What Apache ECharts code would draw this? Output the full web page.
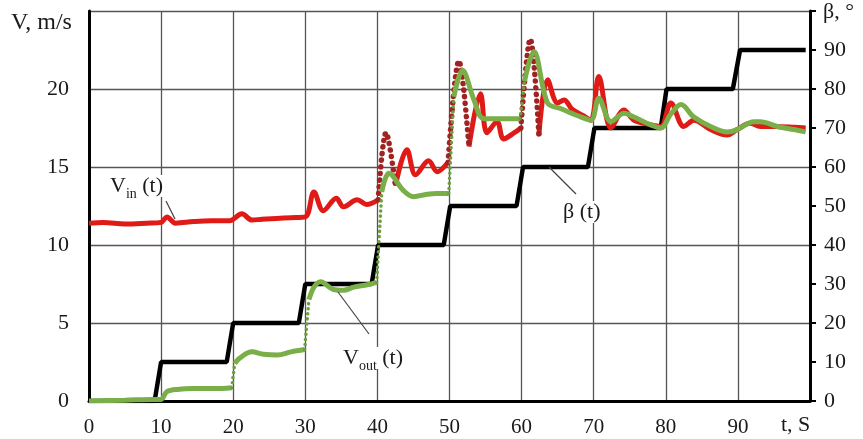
<!DOCTYPE html>
<html>
<head>
<meta charset="utf-8">
<script src="https://cdn.jsdelivr.net/npm/echarts@6/dist/echarts.min.js"></script>
<style>
  html, body { margin: 0; padding: 0; background: #fff; }
  #chart { width: 863px; height: 439px; }
</style>
</head>
<body>
<div id="chart"></div>
<script>
// axis ticks
const tTicks = [0, 10, 20, 30, 40, 50, 60, 70, 80, 90];
const vTicks = [0, 5, 10, 15, 20];
const betaTicks = [0, 10, 20, 30, 40, 50, 60, 70, 80, 90];

// V_in(t), m/s
const vinT = [0, 2, 5, 8, 10, 10.8, 12, 14.5, 17, 19.5, 21.2, 22.6, 24, 26, 28, 30,
  31.2, 32.5, 34.3, 35.3, 37.2, 38.5, 40.1, 41.2, 42.5, 44.1, 45.3, 47.1, 48.3, 49.8,
  51.3, 52.7, 54.3, 55.2, 56.6, 57.5, 59, 59.9, 61.2, 62.4, 63.6, 65, 65.9, 67, 68.5,
  69.6, 70.7, 72.4, 74.2, 75.6, 78, 79.3, 80.7, 82.5, 83.9, 86.2, 88.5, 89.9, 91.7,
  93.1, 95, 97.8, 99.4];
const vinV = [11.4, 11.45, 11.35, 11.4, 11.45, 11.8, 11.4, 11.5, 11.55, 11.55, 12.0, 11.6, 11.65, 11.7, 11.75, 11.8,
  13.4, 12.2, 13.0, 12.45, 12.9, 12.6, 12.9, 17.2, 13.8, 16.1, 14.5, 15.4, 14.7, 15.3,
  21.8, 16.3, 19.7, 17.2, 17.9, 16.8, 17.2, 17.5, 23.2, 17.05, 20.6, 19.1, 19.3, 18.7, 18.3,
  18.0, 20.8, 17.5, 18.65, 18.0, 17.7, 17.6, 19.1, 17.6, 18.0, 17.4, 17.05, 17.4, 17.8,
  17.6, 17.6, 17.55, 17.5];
// time spans where V_in changes fast (drawn as dots)
const vinFast = [[40.1, 42.5], [49.8, 52.7], [59.9, 62.4]];

// V_out(t), m/s
const voutT = [0, 5, 9, 10, 10.8, 12.5, 14.4, 18.5, 19.8, 20.2, 20.9, 22.6, 24.2, 26.1, 28, 29.9,
  30.5, 31.2, 32.1, 33.9, 35.3, 36.7, 38.6, 39.9, 40.6, 41.6, 43.6, 45, 46.9, 48.3, 49.9,
  50.6, 51.8, 53.4, 54.8, 59.8, 60.4, 61.7, 63.6, 65.4, 67.7, 69.6, 70.7, 72.4, 74.2, 75.6,
  77.9, 79.3, 80.7, 82.1, 83.9, 86.2, 88.5, 89.9, 92.2, 93.1, 95.5, 97.8, 99.4];
const voutV = [0, 0.05, 0.1, 0.1, 0.6, 0.75, 0.8, 0.8, 0.85, 2.4, 2.75, 3.15, 3.0, 2.95, 3.15, 3.3,
  6.5, 7.3, 7.65, 7.15, 7.1, 7.3, 7.45, 7.6, 13.4, 14.6, 13.5, 13.1, 13.25, 13.3, 13.3,
  19.5, 21.2, 19.3, 18.1, 18.1, 20.5, 22.4, 19.1, 18.75, 18.3, 18.0, 19.4, 17.9, 18.45, 18.2,
  17.7, 17.5, 18.4, 19.0, 18.2, 17.6, 17.25, 17.4, 17.9, 17.9, 17.6, 17.4, 17.25];
const voutFast = [[19.8, 20.2], [29.9, 30.5], [39.9, 40.6], [49.9, 50.6], [59.8, 60.4]];

// beta(t), degrees
const betaT = [0, 9.1, 10.0, 19.1, 20.0, 29.1, 30.0, 39.2, 40.1, 49.2, 50.1, 59.3, 60.2,
  69.2, 70.1, 79.3, 80.1, 89.3, 90.3, 99.4];
const betaV = [0, 0, 10, 10, 20, 20, 30, 30, 40, 40, 50, 50, 60, 60, 70, 70, 80, 80, 90, 90];

const pairs = (xs, ys) => xs.map((x, i) => [x, ys[i]]);

// split a curve into a solid part and a dotted part (fast spans)
function splitCurve(ts, vs, fast) {
  const isFast = (a, b) => fast.some(([s, e]) => a >= s && b <= e);
  const solid = [], dotted = [];
  for (let i = 0; i < ts.length; i++) {
    const p = [ts[i], vs[i]];
    const prevFast = i > 0 && isFast(ts[i - 1], ts[i]);
    const nextFast = i < ts.length - 1 && isFast(ts[i], ts[i + 1]);
    if (!(prevFast && nextFast)) solid.push(p);
    if (nextFast) solid.push([ts[i], null]);
    if (prevFast || nextFast) dotted.push(p);
    if (prevFast && !nextFast) dotted.push([ts[i], null]);
  }
  return { solid, dotted };
}

const vin = splitCurve(vinT, vinV, vinFast);
const vout = splitCurve(voutT, voutV, voutFast);

const serif = '"Liberation Serif", "Times New Roman", serif';
const txt = '#1a1a1a';
const red = '#e01b17', redDot = '#a02322';
const green = '#79ae48', greenDot = '#6c9d3e';

const chart = echarts.init(document.getElementById('chart'), null, { renderer: 'canvas' });

const option = {
  animation: false,
  textStyle: { fontFamily: serif },
  grid: { left: 89, right: 53, top: 11, bottom: 38, containLabel: false },
  xAxis: {
    type: 'value', min: 0, max: 100, interval: 10,
    axisLine: { show: true, lineStyle: { color: '#000', width: 3 } },
    axisTick: { show: false },
    axisLabel: {
      margin: 16, fontSize: 21, color: txt, fontFamily: serif,
      formatter: v => tTicks.includes(v) ? String(v) : ''
    },
    splitLine: { show: true, lineStyle: { color: '#555', width: 1.3 } }
  },
  yAxis: [{
    type: 'value', min: 0, max: 25, interval: 5, position: 'left',
    axisLine: { show: true, onZero: false, lineStyle: { color: '#000', width: 3 } },
    axisTick: { show: false },
    axisLabel: {
      margin: 20, fontSize: 22, color: txt, fontFamily: serif,
      formatter: v => vTicks.includes(v) ? String(v) : ''
    },
    splitLine: { show: true, lineStyle: { color: '#555', width: 1.3 } }
  }, {
    type: 'value', min: 0, max: 100, interval: 10, position: 'right',
    axisLine: { show: true, onZero: false, lineStyle: { color: '#000', width: 3 } },
    axisTick: { show: true, inside: false, length: 6, lineStyle: { color: '#000', width: 2 } },
    axisLabel: {
      margin: 14, fontSize: 22, color: txt, fontFamily: serif,
      formatter: v => betaTicks.includes(v) ? String(v) : ''
    },
    splitLine: { show: false }
  }],
  series: [{
    name: 'beta', type: 'line', yAxisIndex: 1,
    data: pairs(betaT, betaV),
    showSymbol: false,
    lineStyle: { color: '#000', width: 4.5 },
    z: 2
  }, {
    name: 'Vin', type: 'line', yAxisIndex: 0,
    data: vin.solid, connectNulls: false,
    showSymbol: false, smooth: 0.35,
    lineStyle: { color: red, width: 5 },
    z: 3
  }, {
    name: 'Vin fast', type: 'line', yAxisIndex: 0,
    data: vin.dotted, connectNulls: false,
    showSymbol: false, smooth: 0.35,
    lineStyle: { color: redDot, width: 5.5, type: [0.1, 6.5], cap: 'round' },
    z: 3
  }, {
    name: 'Vout', type: 'line', yAxisIndex: 0,
    data: vout.solid, connectNulls: false,
    showSymbol: false, smooth: 0.35,
    lineStyle: { color: green, width: 5 },
    z: 4
  }, {
    name: 'Vout fast', type: 'line', yAxisIndex: 0,
    data: vout.dotted, connectNulls: false,
    showSymbol: false, smooth: 0.2,
    lineStyle: { color: greenDot, width: 3.5, type: [0.1, 5], cap: 'round' },
    z: 4
  }],
  graphic: [
    { type: 'text', left: 11, top: 11, z: 10,
      style: { text: 'V, m/s', font: '24px ' + serif, fill: txt } },
    { type: 'text', left: 823, top: 1, z: 10,
      style: { text: 'β, °', font: '22px ' + serif, fill: txt } },
    { type: 'text', left: 781, top: 414, z: 10,
      style: { text: 't, S', font: '22px ' + serif, fill: txt } },
    // V_in label
    { type: 'line', z: 9, shape: { x1: 166, y1: 201, x2: 175, y2: 219 },
      style: { stroke: '#444', lineWidth: 1.2 } },
    { type: 'text', left: 108, top: 175, z: 10,
      style: {
        text: '{a|V}{s|in}{a| (t)}', backgroundColor: '#fff', padding: [0, 2, 0, 2],
        rich: {
          a: { fontSize: 22, fontFamily: serif, fill: txt, verticalAlign: 'bottom' },
          s: { fontSize: 14, fontFamily: serif, fill: txt, verticalAlign: 'bottom', padding: [0, 0, -4, 0] }
        }
      } },
    // V_out label
    { type: 'line', z: 9, shape: { x1: 338, y1: 292, x2: 369, y2: 334 },
      style: { stroke: '#444', lineWidth: 1.2 } },
    { type: 'text', left: 341, top: 347, z: 10,
      style: {
        text: '{a|V}{s|out}{a| (t)}', backgroundColor: '#fff', padding: [0, 2, 0, 2],
        rich: {
          a: { fontSize: 22, fontFamily: serif, fill: txt, verticalAlign: 'bottom' },
          s: { fontSize: 14, fontFamily: serif, fill: txt, verticalAlign: 'bottom', padding: [0, 0, -4, 0] }
        }
      } },
    // beta label
    { type: 'line', z: 9, shape: { x1: 549, y1: 167, x2: 576, y2: 194 },
      style: { stroke: '#444', lineWidth: 1.2 } },
    { type: 'text', left: 563, top: 201, z: 10,
      style: { text: 'β (t)', font: '22px ' + serif, fill: txt, backgroundColor: '#fff' } }
  ]
};

chart.setOption(option);
</script>
</body>
</html>
